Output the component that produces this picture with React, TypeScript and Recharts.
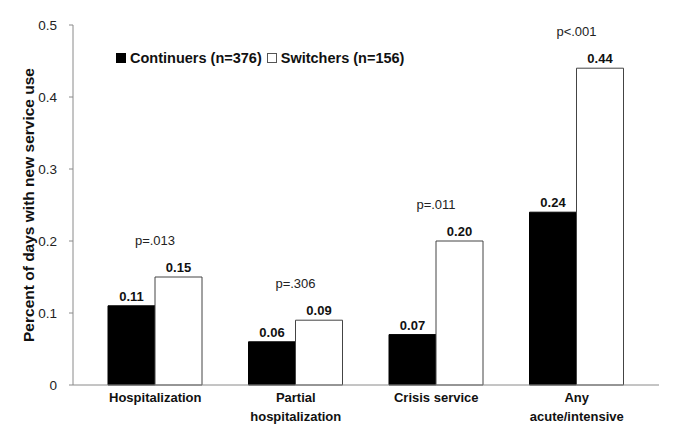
import React from 'react';
import { BarChart, Bar, XAxis, YAxis, Legend, LabelList } from 'recharts';

const categories = ['Hospitalization', 'Partial\nhospitalization', 'Crisis service', 'Any\nacute/intensive'];
const continuers = [0.11, 0.06, 0.07, 0.24];
const switchers = [0.15, 0.09, 0.2, 0.44];
const pValues = ['p=.013', 'p=.306', 'p=.011', 'p<.001'];
const yTicks = [0, 0.1, 0.2, 0.3, 0.4, 0.5];

const data = categories.map((c, i) => ({
  name: c,
  cont: continuers[i],
  swit: switchers[i],
  p: pValues[i],
}));

const FONT = '"Liberation Sans", Arial, sans-serif';
const AXIS = '#8a8a8a';

const CatTick = (props: any) => {
  const { x, y, payload } = props;
  const lines = String(payload.value).split('\n');
  return (
    <text x={x} y={y} textAnchor="middle" fontFamily={FONT} fontSize={13} fontWeight="bold" fill="#111">
      {lines.map((l: string, i: number) => (
        <tspan key={i} x={x} dy={i === 0 ? 17 : 19}>{l}</tspan>
      ))}
    </text>
  );
};

const PLabel = (props: any) => {
  const { x, y, value } = props;
  return (
    <text x={Number(x)} y={Number(y) - 32} textAnchor="middle" fontFamily={FONT} fontSize={13} fill="#222">
      {value}
    </text>
  );
};

const YTitle = (props: any) => {
  const vb = props.viewBox;
  const cx = 28;
  const cy = vb.y + vb.height / 2;
  return (
    <text x={cx} y={cy} transform={`rotate(-90 ${cx} ${cy})`} textAnchor="middle" dominantBaseline="central"
      fontFamily={FONT} fontSize={15.5} fontWeight="bold" fill="#111">
      Percent of days with new service use
    </text>
  );
};

const LegendBox = (props: any) => {
  const items = props.payload || [];
  return (
    <div style={{ display: 'flex', alignItems: 'center', fontFamily: FONT, fontSize: 14.5, fontWeight: 'bold', color: '#111', whiteSpace: 'nowrap' }}>
      {items.map((it: any, i: number) => (
        <span key={i} style={{ display: 'flex', alignItems: 'center', marginRight: 5 }}>
          <span style={{
            display: 'inline-block', width: 8, height: 8, marginRight: 4,
            background: i === 0 ? '#000' : '#fff', border: '1px solid ' + (i === 0 ? '#000' : '#555'),
          }} />
          {it.value}
        </span>
      ))}
    </div>
  );
};

export default function App() {
  return (
    <div style={{ position: 'absolute', left: 0, top: 0, background: '#fff' }}>
      <BarChart width={685} height={444} data={data} margin={{ top: 25, right: 26, bottom: 9, left: 0 }}
        barGap={0} barCategoryGap={23}>
        <XAxis dataKey="name" height={50} tick={<CatTick />} tickLine={false} tickSize={0} tickMargin={0}
          axisLine={{ stroke: AXIS }} padding={{ left: 12, right: 12 }} interval={0} />
        <XAxis xAxisId="top" dataKey="name" orientation="top" height={0} tick={false} tickLine={false}
          axisLine={{ stroke: '#b0b0b0' }} padding={{ left: 12, right: 12 }} />
        <YAxis width={73} domain={[0, 0.5]} ticks={yTicks} tickSize={4} tickMargin={12}
          tick={{ fontFamily: FONT, fontSize: 13.5, fill: '#222' }} axisLine={{ stroke: AXIS }}
          tickLine={{ stroke: AXIS }} tickFormatter={(v: number) => String(v)}
          label={{ content: YTitle }} />
        <YAxis yAxisId="right" orientation="right" width={0} domain={[0, 0.5]} tick={false} tickLine={false}
          axisLine={{ stroke: '#b0b0b0' }} />
        <Legend layout="horizontal" verticalAlign="middle" align="center" content={<LegendBox />}
          wrapperStyle={{ top: 50, left: 116, width: 'auto' }} />
        <Bar dataKey="cont" name="Continuers (n=376)" fill="#000" stroke="#000" strokeWidth={1} isAnimationActive={false}>
          <LabelList dataKey="cont" position="top" offset={5} formatter={(v: any) => Number(v).toFixed(2)}
            style={{ fontFamily: FONT, fontSize: 13, fontWeight: 'bold', fill: '#111' }} />
        </Bar>
        <Bar dataKey="swit" name="Switchers (n=156)" fill="#fff" stroke="#444" strokeWidth={1} isAnimationActive={false}>
          <LabelList dataKey="swit" position="top" offset={5} formatter={(v: any) => Number(v).toFixed(2)}
            style={{ fontFamily: FONT, fontSize: 13, fontWeight: 'bold', fill: '#111' }} />
          <LabelList dataKey="p" content={<PLabel />} />
        </Bar>
      </BarChart>
    </div>
  );
}
